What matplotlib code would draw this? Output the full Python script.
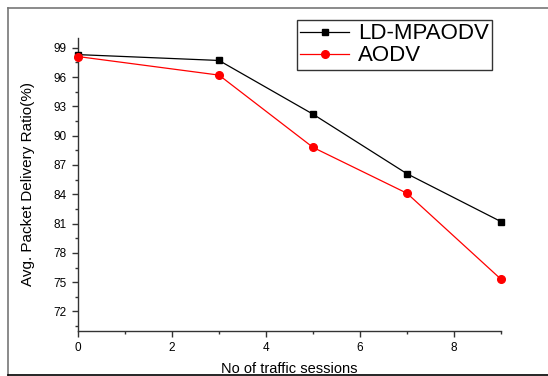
import matplotlib
matplotlib.use("Agg")
import matplotlib.pyplot as plt
from matplotlib.lines import Line2D
from matplotlib.ticker import MultipleLocator

plt.rcParams['font.family'] = ['Liberation Sans', 'DejaVu Sans']

# data
sessions = [0, 3, 5, 7, 9]
ld_mpaodv = [98.3, 97.7, 92.2, 86.1, 81.2]
aodv = [98.1, 96.2, 88.8, 84.1, 75.3]

W, H = 548, 376
fig = plt.figure(figsize=(W / 100, H / 100), dpi=100)
ax = fig.add_axes([78 / W, 1 - 331 / H, (501 - 78) / W, (331 - 38) / H])

ax.plot(sessions, ld_mpaodv, color='black', lw=0.9, marker='s', ms=4.5,
        label='LD-MPAODV', clip_on=False, zorder=3)
ax.plot(sessions, aodv, color='red', lw=0.9, marker='o', ms=5.5,
        label='AODV', clip_on=False, zorder=3)

ax.set_xlim(0, 9)
ax.set_ylim(70, 100)
ax.xaxis.set_major_locator(MultipleLocator(2))
ax.xaxis.set_minor_locator(MultipleLocator(1))
ax.yaxis.set_minor_locator(MultipleLocator(1.5))
ax.set_yticks([72, 75, 78, 81, 84, 87, 90, 93, 96, 99])

for s in ['top', 'right']:
    ax.spines[s].set_visible(False)
for s in ['left', 'bottom']:
    ax.spines[s].set_color('#333333')
    ax.spines[s].set_linewidth(1.0)

ax.tick_params(which='major', direction='out', length=4, width=1,
               color='#333333', labelsize=8.5, pad=4)
ax.tick_params(which='minor', direction='out', length=2, width=1,
               color='#333333')

ax.set_xlabel('No of traffic sessions', fontsize=10.5, labelpad=6)
ax.set_ylabel('Avg. Packet Delivery Ratio(%)', fontsize=11, labelpad=13.5)

leg = fig.legend(loc='upper left', bbox_to_anchor=(297 / W, 1 - 20 / H),
                 fontsize=16, frameon=True, fancybox=False, handlelength=2.2,
                 borderpad=0.15, labelspacing=0.05, handletextpad=0.4,
                 borderaxespad=0)
leg.get_frame().set_edgecolor('black')
leg.get_frame().set_linewidth(1.0)

# outer frame of the original picture
fig.add_artist(Line2D([8 / W, 1], [1 - 8 / H, 1 - 8 / H], color='#777777', lw=1.2))
fig.add_artist(Line2D([8 / W, 8 / W], [0, 1 - 8 / H], color='#777777', lw=1.2))
fig.add_artist(Line2D([8 / W, 1], [1.5 / H, 1.5 / H], color='black', lw=1.2))

fig.savefig('out.png', dpi=100)
